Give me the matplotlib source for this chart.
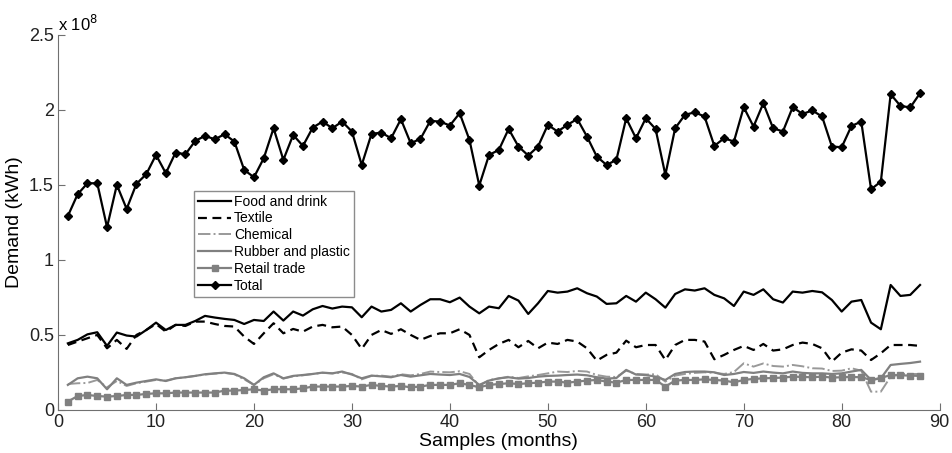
import numpy as np
import matplotlib.pyplot as plt
from matplotlib.ticker import FuncFormatter

plt.rcParams['font.family'] = ['Liberation Sans', 'DejaVu Sans']

# monthly demand, in units of 1e8 kWh
months = list(range(1, 89))

total = [1.293, 1.438, 1.511, 1.511, 1.218, 1.500, 1.340, 1.507, 1.571, 1.700,
         1.578, 1.716, 1.704, 1.793, 1.827, 1.804, 1.838, 1.789, 1.600, 1.551,
         1.678, 1.878, 1.667, 1.833, 1.760, 1.882, 1.922, 1.878, 1.922, 1.856,
         1.633, 1.840, 1.849, 1.811, 1.938, 1.778, 1.807, 1.927, 1.922, 1.896,
         1.978, 1.800, 1.496, 1.700, 1.733, 1.873, 1.756, 1.696, 1.756, 1.900,
         1.856, 1.900, 1.940, 1.822, 1.689, 1.633, 1.667, 1.944, 1.811, 1.944,
         1.873, 1.567, 1.878, 1.967, 1.984, 1.956, 1.760, 1.811, 1.789, 2.018,
         1.889, 2.044, 1.878, 1.856, 2.018, 1.973, 1.996, 1.956, 1.756, 1.751,
         1.893, 1.922, 1.471, 1.522, 2.104, 2.027, 2.016, 2.111]

food = [0.444, 0.467, 0.504, 0.518, 0.427, 0.516, 0.496, 0.489, 0.533, 0.582,
        0.533, 0.567, 0.567, 0.593, 0.627, 0.616, 0.607, 0.600, 0.573, 0.600,
        0.593, 0.656, 0.596, 0.656, 0.629, 0.671, 0.693, 0.676, 0.689, 0.684,
        0.618, 0.689, 0.656, 0.667, 0.711, 0.656, 0.700, 0.738, 0.738, 0.718,
        0.749, 0.689, 0.644, 0.689, 0.678, 0.760, 0.729, 0.640, 0.711, 0.793,
        0.782, 0.789, 0.811, 0.778, 0.756, 0.707, 0.711, 0.760, 0.722, 0.782,
        0.738, 0.682, 0.773, 0.804, 0.796, 0.811, 0.767, 0.744, 0.693, 0.789,
        0.767, 0.804, 0.738, 0.716, 0.789, 0.782, 0.793, 0.784, 0.733, 0.656,
        0.722, 0.733, 0.582, 0.538, 0.833, 0.760, 0.767, 0.833]

textile = [0.433, 0.456, 0.478, 0.500, 0.411, 0.467, 0.407, 0.500, 0.533, 0.573,
           0.522, 0.567, 0.560, 0.589, 0.589, 0.573, 0.560, 0.556, 0.489, 0.440,
           0.511, 0.578, 0.511, 0.540, 0.522, 0.556, 0.567, 0.551, 0.556, 0.500,
           0.407, 0.500, 0.533, 0.507, 0.538, 0.500, 0.467, 0.493, 0.511, 0.511,
           0.538, 0.500, 0.351, 0.400, 0.440, 0.467, 0.418, 0.460, 0.411, 0.449,
           0.440, 0.467, 0.456, 0.411, 0.329, 0.367, 0.382, 0.462, 0.418, 0.433,
           0.433, 0.333, 0.433, 0.467, 0.467, 0.456, 0.338, 0.367, 0.400, 0.427,
           0.400, 0.440, 0.396, 0.404, 0.433, 0.449, 0.440, 0.411, 0.322, 0.382,
           0.404, 0.396, 0.333, 0.378, 0.433, 0.433, 0.433, 0.427]

chemical = [0.173, 0.178, 0.180, 0.200, 0.151, 0.193, 0.160, 0.178, 0.189, 0.200,
            0.196, 0.211, 0.218, 0.227, 0.236, 0.242, 0.247, 0.238, 0.204, 0.167,
            0.211, 0.238, 0.209, 0.224, 0.231, 0.240, 0.247, 0.244, 0.250, 0.240,
            0.204, 0.227, 0.229, 0.222, 0.238, 0.231, 0.240, 0.256, 0.253, 0.251,
            0.258, 0.240, 0.160, 0.200, 0.209, 0.222, 0.213, 0.224, 0.233, 0.244,
            0.256, 0.253, 0.260, 0.256, 0.233, 0.222, 0.220, 0.262, 0.240, 0.236,
            0.238, 0.189, 0.229, 0.240, 0.247, 0.251, 0.247, 0.240, 0.253, 0.311,
            0.289, 0.310, 0.293, 0.289, 0.300, 0.291, 0.278, 0.276, 0.260, 0.262,
            0.278, 0.262, 0.122, 0.122, 0.222, 0.240, 0.240, 0.240]

rubber = [0.167, 0.211, 0.222, 0.211, 0.138, 0.211, 0.167, 0.182, 0.193, 0.204,
          0.193, 0.211, 0.218, 0.227, 0.238, 0.244, 0.249, 0.240, 0.211, 0.167,
          0.218, 0.244, 0.211, 0.227, 0.233, 0.240, 0.249, 0.244, 0.256, 0.236,
          0.211, 0.229, 0.224, 0.218, 0.233, 0.222, 0.231, 0.240, 0.236, 0.233,
          0.240, 0.220, 0.167, 0.196, 0.211, 0.218, 0.209, 0.213, 0.222, 0.227,
          0.229, 0.233, 0.236, 0.231, 0.218, 0.209, 0.213, 0.267, 0.236, 0.233,
          0.222, 0.200, 0.240, 0.253, 0.256, 0.256, 0.251, 0.233, 0.240, 0.253,
          0.247, 0.256, 0.249, 0.244, 0.256, 0.247, 0.244, 0.244, 0.240, 0.244,
          0.256, 0.267, 0.200, 0.211, 0.300, 0.307, 0.313, 0.322]

retail = [0.056, 0.093, 0.100, 0.093, 0.089, 0.093, 0.100, 0.100, 0.107, 0.111,
          0.111, 0.116, 0.116, 0.116, 0.116, 0.116, 0.129, 0.129, 0.133, 0.138,
          0.129, 0.138, 0.138, 0.138, 0.144, 0.156, 0.156, 0.156, 0.156, 0.160,
          0.156, 0.167, 0.160, 0.156, 0.160, 0.151, 0.156, 0.167, 0.167, 0.167,
          0.178, 0.167, 0.151, 0.167, 0.173, 0.178, 0.173, 0.178, 0.182, 0.189,
          0.189, 0.182, 0.189, 0.196, 0.200, 0.189, 0.182, 0.200, 0.200, 0.200,
          0.200, 0.156, 0.196, 0.200, 0.200, 0.204, 0.200, 0.196, 0.184, 0.200,
          0.207, 0.211, 0.213, 0.216, 0.222, 0.220, 0.218, 0.222, 0.216, 0.218,
          0.220, 0.218, 0.200, 0.213, 0.233, 0.231, 0.229, 0.227]

scale = 1e8
gray = '#808080'

fig = plt.figure(figsize=(9.52, 4.53), dpi=100)
ax = fig.add_axes([0.061, 0.095, 0.926, 0.828])

ax.plot(months, np.array(food) * scale, color='black', lw=1.6, label='Food and drink')
ax.plot(months, np.array(textile) * scale, color='black', lw=1.6, ls=(0, (4, 2.5)), label='Textile')
ax.plot(months, np.array(chemical) * scale, color='#999999', lw=1.4, ls='-.', label='Chemical')
ax.plot(months, np.array(rubber) * scale, color=gray, lw=1.6, label='Rubber and plastic')
ax.plot(months, np.array(retail) * scale, color=gray, lw=1.6, marker='s', ms=4.5, label='Retail trade')
ax.plot(months, np.array(total) * scale, color='black', lw=1.6, marker='D', ms=4.2, label='Total')

ax.set_xlim(0, 90)
ax.set_ylim(0, 2.5e8)
ax.set_xticks(range(0, 91, 10))
ax.set_yticks(np.arange(0, 2.51, 0.5) * scale)
ax.yaxis.set_major_formatter(FuncFormatter(lambda v, p: '%g' % (v / scale)))

for s in ['top', 'right']:
    ax.spines[s].set_visible(False)
for s in ['left', 'bottom']:
    ax.spines[s].set_color('#707070')
ax.tick_params(direction='in', length=5, color='#707070', labelsize=13,
               labelcolor='#222222', pad=3)

ax.set_xlabel('Samples (months)', fontsize=14, labelpad=1)
ax.set_ylabel('Demand (kWh)', fontsize=14, labelpad=4)
fig.text(0.061, 0.925, 'x 10$^{8}$', fontsize=12, ha='left', va='bottom')

leg = ax.legend(loc='upper left', bbox_to_anchor=(0.154, 0.585), fontsize=10,
                fancybox=False, edgecolor='#707070', handlelength=2.4,
                handletextpad=0.2, labelspacing=0.2, borderpad=0.3,
                borderaxespad=0)
leg.get_frame().set_linewidth(1.0)

fig.savefig('out.png', dpi=100)
